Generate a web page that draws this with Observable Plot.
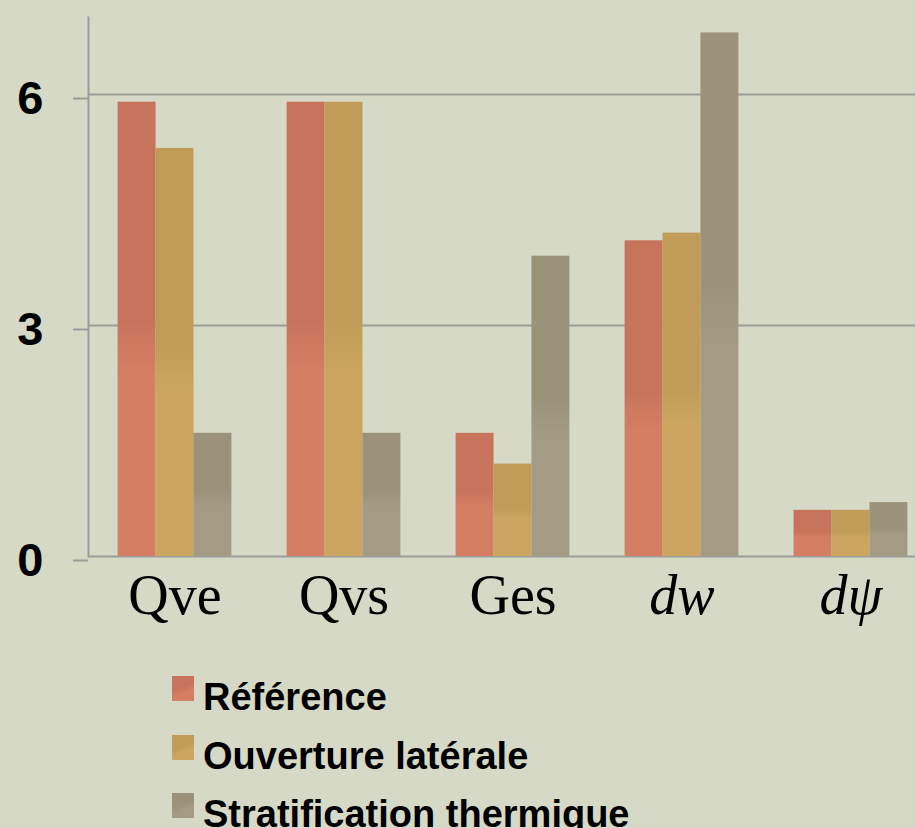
<!DOCTYPE html>
<html><head><meta charset="utf-8">
<script src="https://cdn.jsdelivr.net/npm/d3@7"></script>
<script src="https://cdn.jsdelivr.net/npm/@observablehq/plot@0.6"></script>
<style>
html,body{margin:0;padding:0;background:#d6d9c6;width:915px;height:828px;overflow:hidden}
#chart{position:relative;width:915px;height:828px}
#chart svg{position:absolute;left:0;top:0}
.lg{position:absolute;font-family:"Liberation Sans",Arial,sans-serif;font-weight:bold;font-size:38px;line-height:38px;color:#000;white-space:nowrap}
.sw{position:absolute;width:22px;height:25px}
</style></head><body><div id="chart"></div>
<script>
const categories = ["Qve","Qvs","Ges","dw","dψ"];
const italicCategories = ["dw","dψ"];
const series = ["Référence","Ouverture latérale","Stratification thermique"];
const darkColors = ["#c8735c","#c09c58","#9a937a"];
const lightColors = ["#d47f64","#cca660","#a39b84"];
const reference = [5.9, 5.9, 1.6, 4.1, 0.6];
const ouverture = [5.3, 5.9, 1.2, 4.2, 0.6];
const stratification = [1.6, 1.6, 3.9, 6.8, 0.7];
const yTicks = [0, 3, 6];

const values = [reference, ouverture, stratification];
const table = [];
series.forEach((s, i) => categories.forEach((c, j) => table.push({cat: c, series: s, value: values[i][j]})));

const W = 915, H = 640;
const xRange = [88, 937];
const padIn = 0.33, padOut = 0.165;
const step = (xRange[1] - xRange[0]) / (categories.length - padIn + 2 * padOut);
const third = step * (1 - padIn) / 3;
const gray = "#9c9c9a";

function gradients() {
  const defs = d3.create("svg:defs");
  series.forEach((s, i) => {
    const g = defs.append("linearGradient").attr("id", "grad" + i)
      .attr("x1", 0).attr("y1", 0).attr("x2", 0).attr("y2", 1);
    g.append("stop").attr("offset", "0").attr("stop-color", darkColors[i]);
    g.append("stop").attr("offset", "0.48").attr("stop-color", darkColors[i]);
    g.append("stop").attr("offset", "0.6").attr("stop-color", lightColors[i]);
    g.append("stop").attr("offset", "1").attr("stop-color", lightColors[i]);
  });
  return defs.node();
}

const plot = Plot.plot({
  width: W, height: H,
  marginLeft: 88, marginRight: 0, marginTop: 17, marginBottom: 84,
  style: {background: "transparent", color: "#000", overflow: "hidden"},
  x: {domain: categories, range: xRange, paddingInner: padIn, paddingOuter: padOut, axis: null, label: null},
  y: {domain: [0, 7], axis: null, label: null},
  marks: [
    gradients,
    Plot.gridY(yTicks, {stroke: gray, strokeOpacity: 1, strokeWidth: 2}),
    Plot.frame({anchor: "left", stroke: gray, strokeWidth: 2}),
    ...series.map((s, i) => Plot.barY(table.filter(d => d.series === s), {
      x: "cat", y: "value", fill: `url(#grad${i})`,
      insetLeft: i * third - 0.4, insetRight: (2 - i) * third - 0.4
    })),
    Plot.axisY(yTicks, {tickSize: 15, tickPadding: 30, stroke: gray, strokeWidth: 2, fill: "#000", label: null,
      tickFormat: d3.format("d"),
      fontSize: 47, fontWeight: "bold", fontFamily: "Liberation Sans, Arial, sans-serif", dy: 4}),
    Plot.axisX(categories.filter(c => !italicCategories.includes(c)), {tickSize: 0, tickPadding: 18, fill: "#000", label: null,
      fontSize: 56, fontFamily: "Liberation Serif, Times New Roman, serif"}),
    Plot.axisX(italicCategories, {tickSize: 0, tickPadding: 18, fill: "#000", label: null,
      fontSize: 56, fontStyle: "italic", fontFamily: "Liberation Serif, Times New Roman, serif"})
  ]
});
const chart = document.getElementById("chart");
chart.appendChild(plot);

series.forEach((s, i) => {
  const sw = document.createElement("div");
  sw.className = "sw";
  sw.style.left = "172px";
  sw.style.top = (676 + i * 58.5) + "px";
  sw.style.background = `linear-gradient(160deg, ${darkColors[i]} 45%, ${lightColors[i]} 65%)`;
  chart.appendChild(sw);
  const t = document.createElement("div");
  t.className = "lg";
  t.style.left = "203px";
  t.style.top = (678 + i * 58.5) + "px";
  t.textContent = s;
  chart.appendChild(t);
});
</script></body></html>
